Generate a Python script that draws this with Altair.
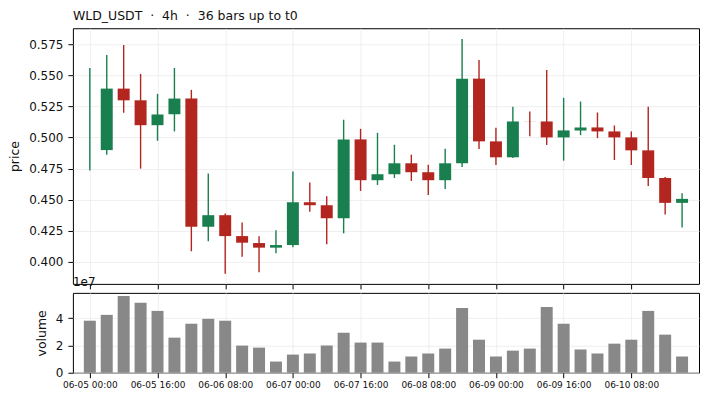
import altair as alt
import pandas as pd

title_text = "WLD_USDT\u00a0\u00a0\u00b7\u00a0\u00a04h\u00a0\u00a0\u00b7\u00a0\u00a036 bars up to t0"

bar_index = list(range(36))
opens = [0.4900, 0.4899, 0.5393, 0.5299, 0.5099, 0.5187, 0.5313, 0.4283, 0.4376, 0.4208,
         0.4152, 0.4115, 0.4136, 0.4480, 0.4456, 0.4352, 0.4985, 0.4657, 0.4705, 0.4793,
         0.4721, 0.4657, 0.4793, 0.5473, 0.4969, 0.4841, 0.5129, 0.5129, 0.5001, 0.5057,
         0.5081, 0.5049, 0.5001, 0.4897, 0.4675, 0.4475]
highs = [0.5559, 0.5663, 0.5743, 0.5511, 0.5351, 0.5559, 0.5383, 0.4710, 0.4390, 0.4318,
         0.4206, 0.4254, 0.4726, 0.4638, 0.4528, 0.5143, 0.5070, 0.5038, 0.4942, 0.4862,
         0.4782, 0.4910, 0.5791, 0.5623, 0.5078, 0.5247, 0.5209, 0.5543, 0.5319, 0.5289,
         0.5201, 0.5097, 0.5049, 0.5247, 0.4683, 0.4552]
lows = [0.4734, 0.4862, 0.5199, 0.4750, 0.4974, 0.5049, 0.4086, 0.4166, 0.3906, 0.4042,
        0.3918, 0.4070, 0.4118, 0.4403, 0.4142, 0.4230, 0.4571, 0.4619, 0.4675, 0.4651,
        0.4539, 0.4587, 0.4763, 0.4907, 0.4779, 0.4835, 0.5011, 0.4939, 0.4814, 0.5019,
        0.4995, 0.4819, 0.4779, 0.4611, 0.4382, 0.4278]
closes = [0.4900, 0.5393, 0.5299, 0.5099, 0.5185, 0.5313, 0.4283, 0.4376, 0.4208, 0.4155,
          0.4115, 0.4136, 0.4480, 0.4456, 0.4352, 0.4985, 0.4657, 0.4705, 0.4793, 0.4721,
          0.4657, 0.4793, 0.5473, 0.4969, 0.4841, 0.5129, 0.5128, 0.5001, 0.5057, 0.5081,
          0.5049, 0.5001, 0.4897, 0.4675, 0.4475, 0.4507]
volumes = [3.81e7, 4.24e7, 5.62e7, 5.12e7, 4.53e7, 2.57e7, 3.59e7, 3.95e7, 3.81e7, 1.99e7,
           1.84e7, 0.82e7, 1.33e7, 1.41e7, 1.99e7, 2.93e7, 2.21e7, 2.21e7, 0.82e7, 1.19e7,
           1.41e7, 1.77e7, 4.75e7, 2.42e7, 1.19e7, 1.62e7, 1.77e7, 4.82e7, 3.59e7, 1.70e7,
           1.41e7, 2.13e7, 2.42e7, 4.53e7, 2.79e7, 1.19e7]

tick_positions = [0, 4, 8, 12, 16, 20, 24, 28, 32]
tick_labels = ["06-05 00:00", "06-05 16:00", "06-06 08:00", "06-07 00:00", "06-07 16:00",
               "06-08 08:00", "06-09 00:00", "06-09 16:00", "06-10 08:00"]
price_ticks = [0.400, 0.425, 0.450, 0.475, 0.500, 0.525, 0.550, 0.575]
volume_ticks = [0, 2e7, 4e7]

GREEN = "#1a7f4e"
RED = "#b2261f"
FONT = "DejaVu Sans"

df = pd.DataFrame({
    "i": bar_index, "open": opens, "high": highs, "low": lows, "close": closes,
    "volume": volumes,
})
df["dir"] = ["up" if c >= o else "down" for o, c in zip(opens, closes)]

label_map = "{" + ", ".join(f"'{p}': '{l}'" for p, l in zip(tick_positions, tick_labels)) + "}"
label_expr = label_map + "[datum.value + '']"

W = 627
x_scale = alt.Scale(domain=[-1, 36], nice=False, zero=False, padding=0)
y_scale = alt.Scale(domain=[0.3824, 0.5878], nice=False, zero=False)
color = alt.Color("dir:N", scale=alt.Scale(domain=["up", "down"], range=[GREEN, RED]), legend=None)

x_axis_price = alt.Axis(values=tick_positions, labels=False, title=None, grid=True,
                        ticks=True, tickSize=5, domain=False)
y_axis_price = alt.Axis(values=price_ticks, format=".3f", title="price", grid=True,
                        tickSize=5, domain=False, titlePadding=7, labelPadding=5,
                        labelOverlap=False)

base = alt.Chart(df)
wicks = base.mark_rule(strokeWidth=1.4).encode(
    x=alt.X("i:Q", scale=x_scale, axis=x_axis_price),
    y=alt.Y("low:Q", scale=y_scale, axis=y_axis_price),
    y2="high:Q",
    color=color,
)
bodies = base.mark_bar(size=12).encode(
    x=alt.X("i:Q", scale=x_scale, axis=x_axis_price),
    y=alt.Y("open:Q", scale=y_scale, axis=y_axis_price),
    y2="close:Q",
    color=color,
)
price = alt.layer(wicks, bodies).properties(
    width=W, height=256,
    title=alt.TitleParams(title_text, anchor="start", frame="group", fontSize=12.5, font=FONT,
                          fontWeight="normal", color="#111111", offset=6),
)

vol_bars = base.mark_bar(size=12, color="#888888").encode(
    x=alt.X("i:Q", scale=x_scale,
            axis=alt.Axis(values=tick_positions, labelExpr=label_expr, title=None, grid=True,
                          tickSize=5, labelFontSize=9, labelPadding=3, domain=False,
                          labelOverlap=False)),
    y=alt.Y("volume:Q", scale=alt.Scale(domain=[0, 5.85e7], nice=False),
            axis=alt.Axis(values=volume_ticks, labelExpr="datum.value / 1e7", title="volume",
                          grid=True, tickSize=5, domain=False, titlePadding=7, labelPadding=5)),
)
exp_text = alt.Chart(pd.DataFrame({"t": ["1e7"]})).mark_text(
    align="left", baseline="alphabetic", fontSize=12, font=FONT, color="#111111"
).encode(x=alt.value(0), y=alt.value(-7), text="t:N")
volume = alt.layer(vol_bars, exp_text).properties(width=W, height=80)

chart = alt.vconcat(price, volume, spacing=9, bounds="flush").properties(
    padding={"left": 0, "top": 1, "right": 0, "bottom": 0}
).configure_view(
    stroke="black", strokeWidth=1
).configure_axis(
    labelFont=FONT, titleFont=FONT, labelFontSize=12, titleFontSize=12.5,
    labelColor="#111111", titleColor="#111111", titleFontWeight="normal",
    tickColor="black", tickWidth=1, gridColor="#ebebeb", gridWidth=0.8,
)

chart.save("out.html", embed_options={"renderer": "svg", "actions": False})
